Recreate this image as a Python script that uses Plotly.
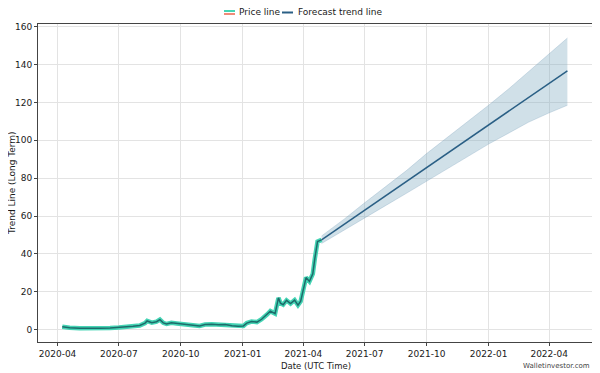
import plotly.graph_objects as go

price_dates = [
    "2020-04-08", "2020-04-19", "2020-05-04", "2020-05-19", "2020-06-03", "2020-06-18",
    "2020-07-01", "2020-07-12", "2020-07-22", "2020-08-01", "2020-08-09", "2020-08-12",
    "2020-08-19", "2020-08-26", "2020-08-31", "2020-09-05", "2020-09-10", "2020-09-17",
    "2020-09-25", "2020-10-02", "2020-10-10", "2020-10-19", "2020-10-29", "2020-11-06",
    "2020-11-16", "2020-11-26", "2020-12-06", "2020-12-16", "2020-12-25", "2021-01-02",
    "2021-01-07", "2021-01-14", "2021-01-22", "2021-01-29", "2021-02-06", "2021-02-11",
    "2021-02-18", "2021-02-23", "2021-02-26", "2021-03-02", "2021-03-07", "2021-03-13",
    "2021-03-19", "2021-03-24", "2021-03-28", "2021-04-01", "2021-04-05", "2021-04-10",
    "2021-04-15", "2021-04-18", "2021-04-22", "2021-04-28",
]
price_values = [
    1.6, 1.0, 0.8, 0.7, 0.8, 0.9,
    1.1, 1.3, 1.8, 2.2, 3.5, 4.6,
    3.7, 4.2, 5.3, 3.6, 3.0, 3.6,
    3.3, 3.2, 2.8, 2.4, 2.0, 2.7,
    2.9, 2.6, 2.8, 2.1, 1.8, 2.0,
    3.5, 4.3, 4.0, 5.5, 8.0, 9.8,
    8.5, 16.8, 14.0, 13.2, 15.5, 13.8,
    15.6, 13.0, 15.0, 20.5, 27.5, 25.5,
    29.5, 37.5, 46.5, 47.4,
]

fc_dates = [
    "2021-04-28", "2021-06-01", "2021-07-01", "2021-08-01", "2021-09-01", "2021-10-01",
    "2021-11-01", "2021-12-01", "2022-01-01", "2022-02-01", "2022-03-01", "2022-04-01",
    "2022-04-28",
]
fc_values = [47.4, 55.7, 63.1, 70.6, 78.2, 85.6, 93.2, 100.5, 108.1, 115.7, 122.5, 130.1, 136.7]
fc_upper = [49.5, 58.5, 67.0, 75.5, 84.0, 93.0, 101.5, 110.0, 118.5, 127.5, 136.0, 145.5, 154.0]
fc_lower = [45.5, 52.5, 59.0, 65.5, 72.0, 78.5, 85.0, 91.5, 98.0, 104.0, 109.5, 114.5, 118.5]

legend_labels = ["Price line", "Forecast trend line"]

font_family = "DejaVu Sans"
TEAL = "#45d4b4"
SALMON = "#f08a78"
CORE = "#1d6b6a"
FC = "#2a5f85"

fig = go.Figure()

# forecast band
fig.add_trace(go.Scatter(x=fc_dates, y=fc_upper, mode="lines", line=dict(width=0.6, color="rgba(110,150,180,0.45)"),
                         showlegend=False, hoverinfo="skip"))
fig.add_trace(go.Scatter(x=fc_dates, y=fc_lower, mode="lines", line=dict(width=0.6, color="rgba(110,150,180,0.45)"),
                         fill="tonexty", fillcolor="rgba(120,165,190,0.35)", showlegend=False, hoverinfo="skip"))

# price line: glow + core
fig.add_trace(go.Scatter(x=price_dates, y=price_values, mode="lines", name=legend_labels[0], showlegend=False,
                         line=dict(color=TEAL, width=4.5)))
fig.add_trace(go.Scatter(x=price_dates, y=price_values, mode="lines", showlegend=False,
                         line=dict(color=CORE, width=1.5)))

# forecast line
fig.add_trace(go.Scatter(x=fc_dates, y=fc_values, mode="lines", name=legend_labels[1], showlegend=False,
                         line=dict(color=FC, width=1.5)))

axis_common = dict(
    showline=True, linecolor="#444444", linewidth=1, mirror=True,
    showgrid=True, gridcolor="#e3e3e3", gridwidth=1,
    ticks="outside", ticklen=3, tickcolor="#444444",
    tickfont=dict(family=font_family, size=9, color="#1a1a1a"),
    zeroline=False, automargin=False,
)

# plot area geometry (figure px): left 30, right 587, top 16, bottom 334
PL, PR, PT, PB = 30, 587, 16, 334
PW, PH = PR - PL, PB - PT


def px(xf):
    return (xf - PL) / PW


def py(yf):
    return (PB - yf) / PH


shapes = [
    dict(type="line", xref="paper", yref="paper", x0=px(216), x1=px(227), y0=py(3), y1=py(3),
         line=dict(color=TEAL, width=2)),
    dict(type="line", xref="paper", yref="paper", x0=px(216), x1=px(227), y0=py(6), y1=py(6),
         line=dict(color=SALMON, width=2)),
    dict(type="line", xref="paper", yref="paper", x0=px(274), x1=px(285), y0=py(4.5), y1=py(4.5),
         line=dict(color=FC, width=2)),
]

annotations = [
    dict(text=legend_labels[0], xref="paper", yref="paper", x=px(229), y=py(4.5), xanchor="left", yanchor="middle",
         showarrow=False, font=dict(family=font_family, size=9, color="#1a1a1a")),
    dict(text=legend_labels[1], xref="paper", yref="paper", x=px(288), y=py(4.5), xanchor="left", yanchor="middle",
         showarrow=False, font=dict(family=font_family, size=9, color="#1a1a1a")),
    dict(text="Date (UTC Time)", xref="paper", yref="paper", x=px(308), y=py(358), xanchor="center",
         yanchor="middle", showarrow=False, font=dict(family=font_family, size=8.5, color="#1a1a1a")),
    dict(text="Trend Line (Long Term)", xref="paper", yref="paper", x=px(4), y=0.5, xanchor="center",
         yanchor="middle", textangle=-90, showarrow=False,
         font=dict(family=font_family, size=9, color="#1a1a1a")),
    dict(text="Walletinvestor.com", xref="paper", yref="paper", x=px(584), y=py(358),
         xanchor="right", yanchor="middle", showarrow=False,
         font=dict(family=font_family, size=7, color="#444444")),
]

fig.update_layout(
    width=600, height=373,
    margin=dict(l=PL, r=600 - PR, t=PT, b=373 - PB, autoexpand=False),
    paper_bgcolor="white", plot_bgcolor="white",
    font=dict(family=font_family, size=9, color="#1a1a1a"),
    showlegend=False,
    xaxis=dict(**axis_common, type="date", range=["2020-03-03", "2022-06-08"],
               dtick="M3", tick0="2020-01-01", tickformat="%Y-%m"),
    yaxis=dict(**axis_common, range=[-6.5, 161.4], dtick=20),
    shapes=shapes,
    annotations=annotations,
)

fig.write_html("out.html")
